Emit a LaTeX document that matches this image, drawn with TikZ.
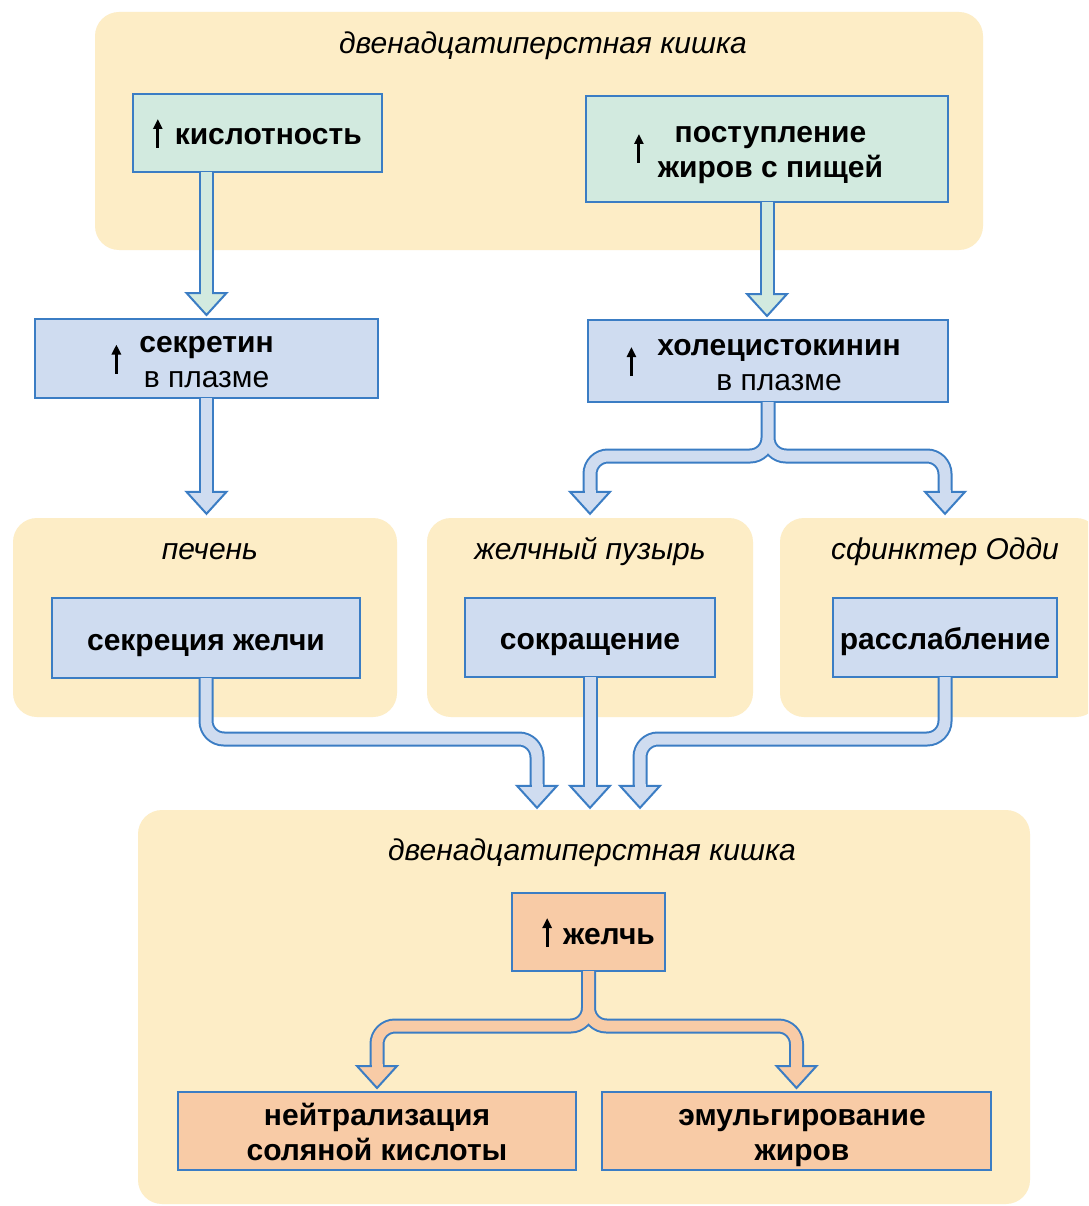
\documentclass[tikz,border=0pt]{standalone}
\usepackage{fontspec}
\setmainfont{Liberation Sans}
\usetikzlibrary{calc,arrows.meta}
\definecolor{bgc}{RGB}{253,237,198}
\definecolor{grn}{RGB}{210,234,223}
\definecolor{blu}{RGB}{207,220,240}
\definecolor{pch}{RGB}{248,203,166}
\definecolor{bord}{RGB}{59,125,196}
\newcommand\shaft[2]{%
  \draw[line width=15pt,draw=bord,rounded corners=18pt] #2;
  \draw[line width=11pt,draw=#1,rounded corners=18pt] #2;}
\newcommand\head[2]{%
  \draw[draw=bord,line width=2pt,fill=#1,line join=miter] ($(#2)+(-20,-22)$) -- (#2) -- ($(#2)+(20,-22)$) -- cycle;
  \fill[#1] ($(#2)+(-5.5,-24)$) rectangle ($(#2)+(5.5,-19)$);}
\newcommand\uparr[1]{\tikz[baseline=0pt]\draw[black,line width=3pt,-{Triangle[width=9pt,length=10pt]}] (0pt,#1pt) -- (0pt,#1pt+29pt);}
\tikzset{
 region/.style={fill=bgc,draw=none,rounded corners=24pt,inner sep=0pt},
 box/.style={draw=bord,line width=2pt,align=center,inner sep=0pt,font=\fontsize{30}{35}\selectfont\bfseries},
 sbox/.style={box,text height=24pt,text depth=0pt},
 dbox/.style={box,text height=29pt,text depth=41pt},
 place/.style={font=\fontsize{30}{34}\selectfont\itshape,inner sep=0pt},
}
\begin{document}
\begin{tikzpicture}[x=1pt,y=-1pt]
\useasboundingbox (0,0) rectangle (1088,1206);
\clip (0,0) rectangle (1088,1206);
\fill[white] (0,0) rectangle (1088,1206);
% regions
\node[region,minimum width=888pt,minimum height=238pt] (duo1) at (539,131) {};
\node[region,minimum width=384pt,minimum height=199pt] (pech) at (205,617.5) {};
\node[region,minimum width=326pt,minimum height=199pt] (puz) at (590,617.5) {};
\node[region,minimum width=320pt,minimum height=199pt] (sfin) at (940,617.5) {};
\node[region,minimum width=892pt,minimum height=394pt] (duo2) at (584,1007) {};
% region labels
\node[place] (duo1l) at (543,46) {двенадцатиперстная кишка};
\node[place] (pechl) at (210,552) {печень};
\node[place] (puzl) at (590,552) {желчный пузырь};
\node[place] (sfinl) at (945,552) {сфинктер Одди};
\node[place] (duo2l) at (592,853) {двенадцатиперстная кишка};
% boxes
\node[sbox,fill=grn,minimum width=249pt,minimum height=78pt] (kisl) at (257.5,133)
  {\uparr{-3}\hspace{12.5pt}кислотность};
\node[dbox,fill=grn,minimum width=362pt,minimum height=106pt] (post) at (767,149)
  {\hspace*{7pt}\llap{\uparr{-20}\hspace{14.5pt}}\begin{tabular}[t]{@{}c@{}}поступление\\жиров с пищей\end{tabular}};
\node[dbox,fill=blu,minimum width=343pt,minimum height=79pt] (sekr) at (206.5,358.5)
  {\llap{\uparr{-21}\hspace{18.5pt}}\begin{tabular}[t]{@{}c@{}}секретин\\\mdseries в плазме\end{tabular}};
\node[dbox,fill=blu,minimum width=360pt,minimum height=82pt] (hol) at (768,361)
  {\hspace*{22pt}\llap{\uparr{-21}\hspace{21.5pt}}\begin{tabular}[t]{@{}c@{}}холецистокинин\\\mdseries в плазме\end{tabular}};
\node[sbox,fill=blu,minimum width=308pt,minimum height=80pt] (sekj) at (206,638) {секреция желчи};
\node[sbox,fill=blu,minimum width=250pt,minimum height=79pt] (sokr) at (590,637.5) {сокращение};
\node[sbox,fill=blu,minimum width=224pt,minimum height=79pt] (rass) at (945,637.5) {расслабление};
\node[sbox,fill=pch,minimum width=153pt,minimum height=78pt] (zh) at (588.5,932)
  {\hspace*{20.5pt}\uparr{-3}\hspace{11.5pt}желчь};
\node[dbox,fill=pch,minimum width=398pt,minimum height=78pt] (neut) at (377,1131)
  {\begin{tabular}[t]{@{}c@{}}нейтрализация\\соляной кислоты\end{tabular}};
\node[dbox,fill=pch,minimum width=389pt,minimum height=78pt] (emul) at (796.5,1131)
  {\hspace*{11pt}\begin{tabular}[t]{@{}c@{}}эмульгирование\\жиров\end{tabular}};
% arrow 1
\coordinate (t1) at ($(sekr.north)+(0,-3)$);
\shaft{grn}{($(kisl.south -| t1)+(0,-1)$) -- ($(t1)+(0,-21)$)}
\head{grn}{t1}
% arrow 2
\coordinate (t2) at ($(post.south |- hol.north)+(0,-3)$);
\shaft{grn}{($(post.south)+(0,-1)$) -- ($(t2)+(0,-21)$)}
\head{grn}{t2}
% arrow 3
\coordinate (t3) at ($(sekr.south |- pech.north)+(0,-4)$);
\shaft{blu}{($(sekr.south)+(0,-1)$) -- ($(t3)+(0,-21)$)}
\head{blu}{t3}
% arrow 4 split
\coordinate (j4) at ($(hol.south)+(0,53)$);
\coordinate (t4l) at ($(puz.north)+(0,-4)$);
\coordinate (t4r) at ($(rass.north |- puz.north)+(0,-4)$);
\shaft{blu}{($(hol.south)+(0,-1)$) -- (j4) -- (j4 -| t4l) -- ($(t4l)+(0,-21)$)
  ($(hol.south)+(0,-1)$) -- (j4) -- (j4 -| t4r) -- ($(t4r)+(0,-21)$)}
\head{blu}{t4l}
\head{blu}{t4r}
% arrows 5 merge
\coordinate (t5c) at ($(duo2.north -| sokr.south)+(0,-2)$);
\coordinate (t5l) at ($(t5c)+(-53,0)$);
\coordinate (t5r) at ($(t5c)+(50,0)$);
\coordinate (c5l) at ($(sekj.south)+(0,60)$);
\coordinate (c5r) at ($(rass.south)+(0,61)$);
\shaft{blu}{($(sekj.south)+(0,-1)$) -- (c5l) -- (c5l -| t5l) -- ($(t5l)+(0,-21)$)}
\shaft{blu}{($(sokr.south)+(0,-1)$) -- ($(t5c)+(0,-21)$)}
\shaft{blu}{($(rass.south)+(0,-1)$) -- (c5r) -- (c5r -| t5r) -- ($(t5r)+(0,-21)$)}
\head{blu}{t5l}
\head{blu}{t5c}
\head{blu}{t5r}
% arrow 6 split
\coordinate (j6) at ($(zh.south)+(0,54)$);
\coordinate (t6l) at ($(neut.north)+(0,-3)$);
\coordinate (t6r) at ($(emul.north)+(0,-3)$);
\shaft{pch}{($(zh.south)+(0,-1)$) -- (j6) -- (j6 -| t6l) -- ($(t6l)+(0,-21)$)
  ($(zh.south)+(0,-1)$) -- (j6) -- (j6 -| t6r) -- ($(t6r)+(0,-21)$)}
\head{pch}{t6l}
\head{pch}{t6r}
\end{tikzpicture}
\end{document}
